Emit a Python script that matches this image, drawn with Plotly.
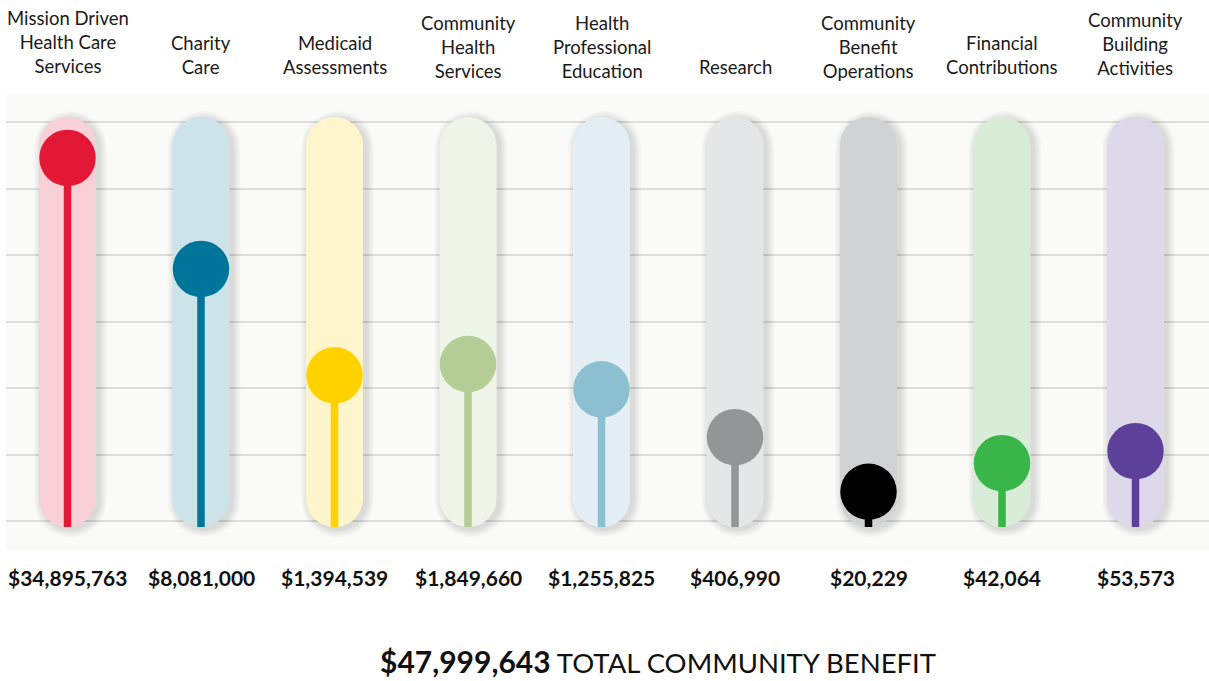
import plotly.graph_objects as go

# ---------------- data ----------------
categories = [
    "Mission Driven<br>Health Care<br>Services",
    "Charity<br>Care",
    "Medicaid<br>Assessments",
    "Community<br>Health<br>Services",
    "Health<br>Professional<br>Education",
    "Research",
    "Community<br>Benefit<br>Operations",
    "Financial<br>Contributions",
    "Community<br>Building<br>Activities",
]
amounts = [34895763, 8081000, 1394539, 1849660, 1255825, 406990, 20229, 42064, 53573]
# height of each lollipop on the infographic's (non-linear) gauge, gridline units
gauge_levels = [5.46, 3.79, 2.19, 2.36, 1.98, 1.26, 0.44, 0.87, 1.05]
total_amount = 47999643

# ---------------- styles ----------------
dot_colors = ["#E31837", "#00759A", "#FFD200", "#B4CC95", "#8CC0D0",
              "#939598", "#000000", "#39B54A", "#5C4099"]
tube_colors = ["#F9D0D7", "#CCE3EA", "#FFF5CC", "#EFF4E8", "#E4EFF5",
               "#E5E6E8", "#D1D2D4", "#D9ECD7", "#DDD9EB"]
label_shift = [15, 14, 14, 10, 10, 14, 10, 14, 13]

FONT = "Lato"
W, H = 1209, 681
M_L, M_R, M_T, M_B = 6, 0, 94, 131
plot_w = W - M_L - M_R
x_lo = -0.4607
x_hi = x_lo + plot_w / 133.5
y_lo, y_hi = -0.436, 6.421
px_per_level = (H - M_T - M_B) / (y_hi - y_lo)

tube_bottom = -0.09
tube_center = 2.992
tube_half_h = 410 / 2


def capsule_path(r, h, dx=0.0):
    k = 0.5523
    s = h - r
    pts = [
        f"M {-r+dx},{-s}",
        f"L {-r+dx},{s}",
        f"C {-r+dx},{s+k*r} {-k*r+dx},{s+r} {dx},{s+r}",
        f"C {k*r+dx},{s+r} {r+dx},{s+k*r} {r+dx},{s}",
        f"L {r+dx},{-s}",
        f"C {r+dx},{-s-k*r} {k*r+dx},{-s-r} {dx},{-s-r}",
        f"C {-k*r+dx},{-s-r} {-r+dx},{-s-k*r} {-r+dx},{-s}",
        "Z",
    ]
    return " ".join(pts)


fig = go.Figure()
shapes = []
for i in range(len(categories)):
    # soft shadow
    for e in range(1, 9):
        shapes.append(dict(
            type="path", layer="between", xref="x", yref="y",
            xsizemode="pixel", ysizemode="pixel",
            xanchor=i, yanchor=tube_center - 2 / px_per_level,
            path=capsule_path(28.5 + e, tube_half_h + e, dx=3),
            fillcolor="rgba(0,0,0,0.015)", line=dict(width=0),
        ))
    shapes.append(dict(
        type="path", layer="between", xref="x", yref="y",
        xsizemode="pixel", ysizemode="pixel",
        xanchor=i, yanchor=tube_center,
        path=capsule_path(28.5, tube_half_h),
        fillcolor=tube_colors[i], line=dict(width=0),
    ))

for i, (lvl, col) in enumerate(zip(gauge_levels, dot_colors)):
    fig.add_trace(go.Scatter(
        x=[i, i], y=[tube_bottom, lvl], mode="lines",
        line=dict(color=col, width=7.5), hoverinfo="skip", showlegend=False,
    ))
fig.add_trace(go.Scatter(
    x=list(range(len(categories))), y=gauge_levels, mode="markers",
    marker=dict(size=56.5, color=dot_colors, line=dict(width=0)),
    customdata=amounts, hovertemplate="$%{customdata:,}<extra></extra>",
    showlegend=False,
))

annotations = []
for i, (cat, amt) in enumerate(zip(categories, amounts)):
    annotations.append(dict(
        x=i, xref="x", y=1, yref="paper", yanchor="bottom", yshift=label_shift[i],
        text=cat, showarrow=False, align="center",
        font=dict(family=FONT, size=18.5, color="#1a1a1a"),
    ))
    annotations.append(dict(
        x=i, xref="x", y=0, yref="paper", yanchor="middle", yshift=-27,
        text=f"<b>${amt:,}</b>", showarrow=False,
        font=dict(family=FONT, size=21, color="#111111"),
    ))
annotations.append(dict(
    x=(657.5 - M_L) / plot_w, xref="paper", y=(H - 661 - M_B) / (H - M_T - M_B), yref="paper",
    xanchor="center", yanchor="middle", borderpad=0,
    text=f"<b><span style='font-size:30px'>${total_amount:,}</span></b> TOTAL COMMUNITY BENEFIT",
    showarrow=False, font=dict(family=FONT, size=27.5, color="#111111"),
))

fig.update_layout(
    width=W, height=H,
    margin=dict(l=M_L, r=M_R, t=M_T, b=M_B),
    paper_bgcolor="#FFFFFF", plot_bgcolor="#FAFAF8",
    shapes=shapes, annotations=annotations,
    xaxis=dict(range=[x_lo, x_hi], showgrid=False, zeroline=False,
               showticklabels=False, fixedrange=True),
    yaxis=dict(range=[y_lo, y_hi], dtick=1, tick0=0, showgrid=True,
               gridcolor="#DDDDDB", gridwidth=2, zeroline=False,
               showticklabels=False, fixedrange=True),
    showlegend=False,
)

fig.write_html("out.html")
